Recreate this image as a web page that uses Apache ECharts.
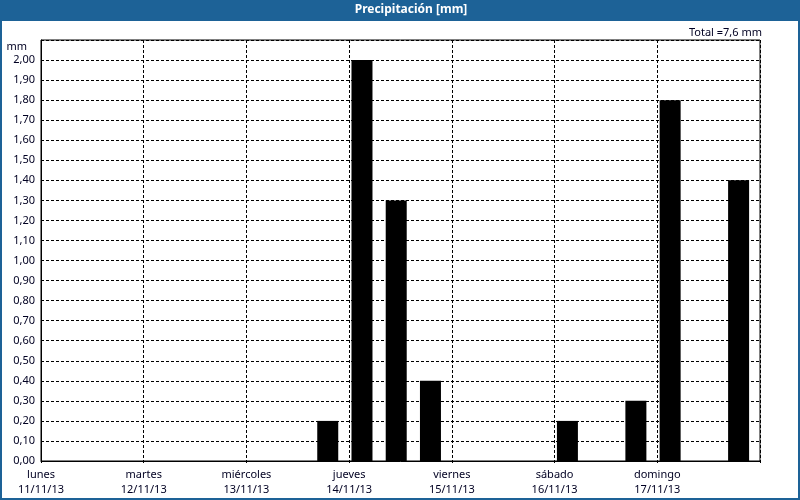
<!DOCTYPE html>
<html>
<head>
<meta charset="utf-8">
<script src="https://cdn.jsdelivr.net/npm/echarts@6/dist/echarts.min.js"></script>
<style>
html,body{margin:0;padding:0;background:#fff;}
#chart{width:800px;height:500px;}
</style>
</head>
<body>
<div id="chart"></div>
<script>
// ---- data ----
const dayNames = ['lunes', 'martes', 'miércoles', 'jueves', 'viernes', 'sábado', 'domingo'];
const dayDates = ['11/11/13', '12/11/13', '13/11/13', '14/11/13', '15/11/13', '16/11/13', '17/11/13'];
// start of each 8-hour period, hours since lunes 11/11/13 00:00
const periodStartHours = [64, 72, 80, 88, 120, 136, 144, 160];
const precipitation = [0.2, 2.0, 1.3, 0.4, 0.2, 0.3, 1.8, 1.4];
const yTicks = [0, 0.1, 0.2, 0.3, 0.4, 0.5, 0.6, 0.7, 0.8, 0.9, 1.0, 1.1, 1.2, 1.3, 1.4, 1.5, 1.6, 1.7, 1.8, 1.9, 2.0];

const titleText = 'Precipitación [mm]';
const unit = 'mm';

const FONT = 'Noto Sans';
const TXT = '#000022';
const BLUE = '#1d6297';

const total = precipitation.reduce((a, b) => a + b, 0);
const totalText = 'Total =' + total.toFixed(1).replace('.', ',') + ' mm';

const barOffsetHours = 3; // bars drawn near start of their period
const barData = periodStartHours.map((h, i) => [h + barOffsetHours, precipitation[i]]);

const chart = echarts.init(document.getElementById('chart'), null, {renderer: 'canvas'});
chart.setOption({
  backgroundColor: '#ffffff',
  animation: false,
  grid: {left: 41, right: 40, top: 40, bottom: 39, show: true, borderColor: '#000', borderWidth: 1, backgroundColor: 'transparent'},
  xAxis: {
    type: 'value', min: 0, max: dayNames.length * 24, interval: 24,
    axisLine: {show: true, lineStyle: {color: '#000', width: 1}},
    axisTick: {show: true, length: 3, lineStyle: {color: '#000', type: [2, 2]}},
    splitLine: {show: true, lineStyle: {color: '#000', type: [3, 2], width: 1}},
    axisLabel: {
      show: true, margin: 6, fontFamily: FONT, fontSize: 11, color: TXT, lineHeight: 15,
      formatter: function (v) {
        const d = Math.round(v / 24);
        if (d >= dayNames.length) return '';
        return dayNames[d] + '\n' + dayDates[d];
      }
    }
  },
  yAxis: {
    type: 'value', min: 0, max: 2.1, interval: 0.1,
    axisLine: {show: true, lineStyle: {color: '#000', width: 1}},
    axisTick: {show: false},
    splitLine: {show: true, lineStyle: {color: '#000', type: [3, 2], width: 1}},
    axisLabel: {
      margin: 6, fontFamily: FONT, fontSize: 11, color: TXT,
      formatter: function (v) {
        if (v > yTicks[yTicks.length - 1] + 0.05) return '';
        return v.toFixed(2).replace('.', ',');
      }
    }
  },
  series: [{
    type: 'bar',
    data: barData,
    barWidth: 21,
    itemStyle: {color: '#000'},
    z: 3
  }],
  graphic: [
    {type: 'rect', shape: {x: 0, y: 0, width: 800, height: 21}, style: {fill: BLUE}, z: 10},
    {type: 'rect', shape: {x: 1, y: 1, width: 798, height: 498}, style: {fill: 'none', stroke: BLUE, lineWidth: 2}, z: 10},
    {type: 'text', x: 411, y: 10, style: {text: titleText, fill: '#fff', font: 'bold 12px "Noto Sans"', textAlign: 'center', textVerticalAlign: 'middle'}, z: 11},
    {type: 'text', x: 762, y: 33, style: {text: totalText, fill: TXT, font: '11px "Noto Sans"', textAlign: 'right', textVerticalAlign: 'middle'}, z: 11},
    {type: 'text', x: 27, y: 47, style: {text: unit, fill: TXT, font: '11px "Noto Sans"', textAlign: 'right', textVerticalAlign: 'middle'}, z: 11}
  ]
});
</script>
</body>
</html>
